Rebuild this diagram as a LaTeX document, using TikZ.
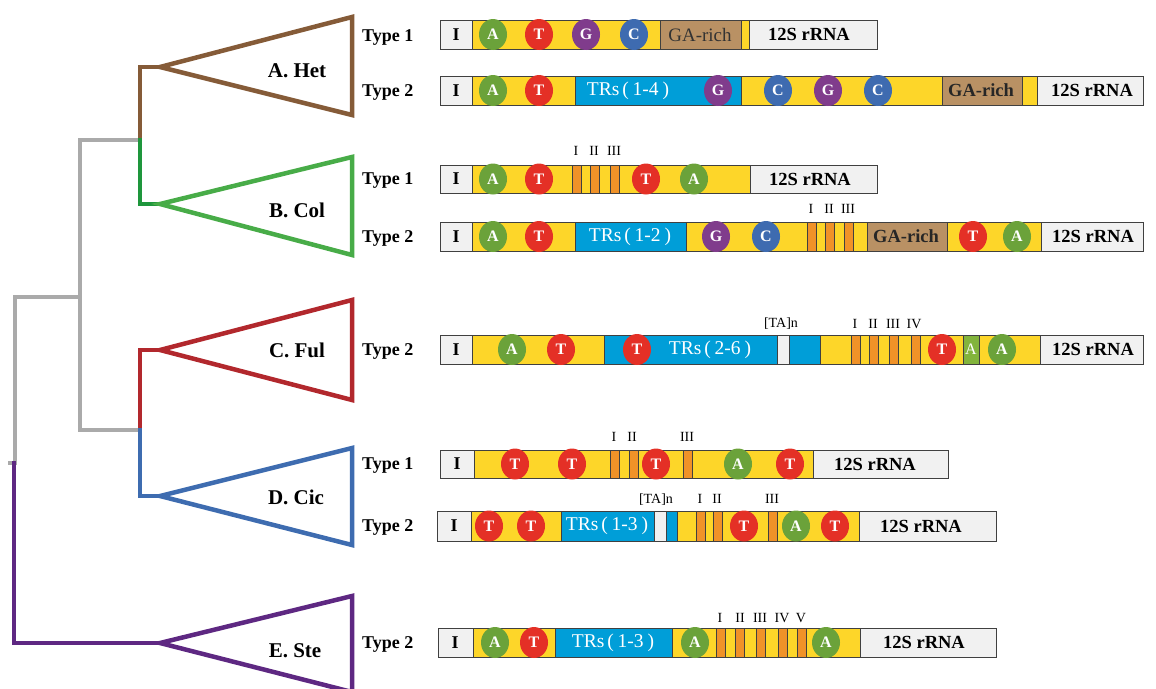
\documentclass[tikz,border=0pt]{standalone}
\usepackage{fontspec}
\setmainfont{Liberation Serif}
\usetikzlibrary{shapes.geometric}
\definecolor{cA}{RGB}{107,162,58}
\definecolor{cT}{RGB}{228,48,38}
\definecolor{cG}{RGB}{128,60,140}
\definecolor{cC}{RGB}{62,107,176}
\definecolor{bary}{RGB}{253,214,41}
\definecolor{trb}{RGB}{0,158,216}
\definecolor{orn}{RGB}{240,146,40}
\definecolor{gab}{RGB}{185,145,100}
\definecolor{boxg}{RGB}{241,241,241}
\definecolor{gbox}{RGB}{130,180,60}
\definecolor{tbrown}{RGB}{133,91,56}
\definecolor{tgreen}{RGB}{72,172,72}
\definecolor{tdgreen}{RGB}{30,150,60}
\definecolor{tred}{RGB}{178,40,45}
\definecolor{tblue}{RGB}{62,108,176}
\definecolor{tpurple}{RGB}{94,40,130}
\definecolor{tgray}{RGB}{170,170,170}
\tikzset{
  bar/.style={draw=black!75, line width=0.8pt},
  dot/.style={ellipse, minimum width=28pt, minimum height=31pt, inner sep=0pt, text=white, font=\fontsize{16}{16}\selectfont\bfseries},
  typelbl/.style={anchor=west, inner sep=0pt, text depth=0pt, font=\fontsize{18}{18}\selectfont\bfseries},
  clade/.style={inner sep=0pt, text depth=0pt, font=\fontsize{21}{21}\selectfont\bfseries},
  rn/.style={inner sep=0pt, text depth=0pt, font=\fontsize{14}{14}\selectfont},
  ilbl/.style={inner sep=0pt, text depth=0pt, font=\fontsize{18}{18}\selectfont\bfseries},
  rlbl/.style={inner sep=0pt, text depth=0pt, font=\fontsize{18.5}{18.5}\selectfont\bfseries},
  garich/.style={inner sep=0pt, text depth=0pt, text=black!80, font=\fontsize{19}{19}\selectfont},
  garichb/.style={inner sep=0pt, text depth=0pt, text=black!85, font=\fontsize{18.5}{18.5}\selectfont\bfseries},
  trlbl/.style={inner sep=0pt, text=white, font=\fontsize{19.5}{19.5}\selectfont},
  branch/.style={line width=4.5pt, line join=miter, line cap=rect},
}
\newcommand\rowset[2]{\def\yt{#1}\def\yb{#2}\pgfmathsetmacro\yc{(#1+#2)/2}}
\newcommand\seg[3]{\draw[bar,#3] (#1,\yt) rectangle (#2,\yb);}
\newcommand\cir[4]{\node[dot,fill=#3] (#4) at (#1,\yc) {#2};}
\newcommand\orb[1]{\draw[bar,fill=orn] (#1,\yt) rectangle ++(9,\yb-\yt);}
\newcommand\trs[1]{TRs\hspace{0.15em}(\hspace{0.2em}#1\hspace{0.2em})}
\begin{document}
\begin{tikzpicture}[x=1pt,y=-1pt]
\useasboundingbox (0,0) rectangle (1156,688);
% ---------- tree ----------
\coordinate (ra) at (160,67);
\coordinate (rb) at (160,204);
\coordinate (rc) at (160,350);
\coordinate (rd) at (160,496);
\coordinate (re) at (160,643);
\draw[branch,tgray] (80,140) -- (80,430);
\draw[branch,tgray] (80,140) -- (138,140);
\draw[branch,tgray] (80,430) -- (138,430);
\draw[branch,tgray] (15,297) -- (80,297);
\draw[branch,tgray] (15,297) -- (15,463) -- (10,463);
\draw[branch,tpurple] (14,463) -- (14,643) -- (re);
\draw[branch,tbrown] (140,140) -- (140,67) -- (ra);
\draw[branch,tdgreen] (140,140) -- (140,204) -- (rb);
\draw[branch,tred] (140,430) -- (140,350) -- (rc);
\draw[branch,tblue] (140,430) -- (140,496) -- (rd);
\draw[branch,tbrown] (ra) -- (352,17) -- (352,115) -- cycle;
\draw[branch,tgreen] (rb) -- (352,157) -- (352,255) -- cycle;
\draw[branch,tred] (rc) -- (352,300) -- (352,400) -- cycle;
\draw[branch,tblue] (rd) -- (352,448) -- (352,545) -- cycle;
\draw[branch,tpurple] (re) -- (352,596) -- (352,692) -- cycle;
\node[clade] (la) at (297,71) {A. Het};
\node[clade] (lb) at (297,210) {B. Col};
\node[clade] (lc) at (297,350) {C. Ful};
\node[clade] (ld) at (296,497) {D. Cic};
\node[clade] (le) at (295,651) {E. Ste};
% ---------- type labels ----------
\node[typelbl] (ta1) at (362,36) {Type 1};
\node[typelbl] (ta2) at (362,91) {Type 2};
\node[typelbl] (tb1) at (362,179) {Type 1};
\node[typelbl] (tb2) at (362,237) {Type 2};
\node[typelbl] (tc2) at (362,350) {Type 2};
\node[typelbl] (td1) at (362,464) {Type 1};
\node[typelbl] (td2) at (362,526) {Type 2};
\node[typelbl] (te2) at (362,643) {Type 2};
% ---------- A1 ----------
\rowset{20}{49}
\seg{440}{877}{fill=bary}
\seg{440}{472}{fill=boxg}\node[ilbl] (a1i) at (456,\yc) {I};
\seg{660}{741}{fill=gab}\node[garich] (a1g) at (700,\yc) {GA-rich};
\seg{749}{877}{fill=boxg}\node[rlbl] (a1r) at (809,\yc) {12S rRNA};
\cir{493}{A}{cA}{a1c1}\cir{539}{T}{cT}{a1c2}\cir{586}{G}{cG}{a1c3}\cir{634}{C}{cC}{a1c4}
% ---------- A2 ----------
\rowset{76}{105}
\seg{440}{1143}{fill=bary}
\seg{440}{472}{fill=boxg}\node[ilbl] (a2i) at (456,\yc) {I};
\seg{575}{741}{fill=trb}\node[trlbl] (a2tr) at (628,\yc) {\trs{1-4}};
\seg{942}{1022}{fill=gab}\node[garichb] (a2g) at (981,\yc) {GA-rich};
\seg{1037}{1143}{fill=boxg}\node[rlbl] (a2r) at (1092,\yc) {12S rRNA};
\cir{493}{A}{cA}{a2c1}\cir{539}{T}{cT}{a2c2}\cir{718}{G}{cG}{a2c3}\cir{778}{C}{cC}{a2c4}\cir{828}{G}{cG}{a2c5}\cir{878}{C}{cC}{a2c6}
% ---------- B1 ----------
\rowset{165}{193}
\seg{440}{877}{fill=bary}
\seg{440}{472}{fill=boxg}\node[ilbl] (b1i) at (456,\yc) {I};
\seg{750}{877}{fill=boxg}\node[rlbl] (b1r) at (810,\yc) {12S rRNA};
\orb{572}\orb{590}\orb{610}
\node[rn] (b1n1) at (576,151) {I};\node[rn] (b1n2) at (594,151) {II};\node[rn] (b1n3) at (614,151) {III};
\cir{493}{A}{cA}{b1c1}\cir{539}{T}{cT}{b1c2}\cir{646}{T}{cT}{b1c3}\cir{694}{A}{cA}{b1c4}
% ---------- B2 ----------
\rowset{222}{251}
\seg{440}{1143}{fill=bary}
\seg{440}{472}{fill=boxg}\node[ilbl] (b2i) at (456,\yc) {I};
\seg{575}{686}{fill=trb}\node[trlbl] (b2tr) at (630,\yc) {\trs{1-2}};
\orb{807}\orb{825}\orb{844}
\node[rn] (b2n1) at (811,209) {I};\node[rn] (b2n2) at (829,209) {II};\node[rn] (b2n3) at (848,209) {III};
\seg{867}{947}{fill=gab}\node[garichb] (b2g) at (906,\yc) {GA-rich};
\seg{1041}{1143}{fill=boxg}\node[rlbl] (b2r) at (1093,\yc) {12S rRNA};
\cir{493}{A}{cA}{b2c1}\cir{539}{T}{cT}{b2c2}\cir{716}{G}{cG}{b2c3}\cir{766}{C}{cC}{b2c4}\cir{973}{T}{cT}{b2c5}\cir{1017}{A}{cA}{b2c6}
% ---------- C2 ----------
\rowset{335}{364}
\seg{440}{1143}{fill=bary}
\seg{440}{472}{fill=boxg}\node[ilbl] (c2i) at (456,\yc) {I};
\seg{604}{820}{fill=trb}
\seg{777}{789}{fill=boxg}
\node[trlbl] (c2tr) at (710,\yc) {\trs{2-6}};
\node[rn] (c2ta) at (781,323) {[TA]n};
\orb{851}\orb{869}\orb{889}\orb{911}
\node[rn] (c2n1) at (855,324) {I};\node[rn] (c2n2) at (873,324) {II};\node[rn] (c2n3) at (893,324) {III};\node[rn] (c2n4) at (914,324) {IV};
\seg{963}{979}{fill=gbox}\node[rn,text=white,font=\fontsize{16}{16}\selectfont] (c2ga) at (971,\yc) {A};
\seg{1040}{1143}{fill=boxg}\node[rlbl] (c2r) at (1093,\yc) {12S rRNA};
\cir{512}{A}{cA}{c2c1}\cir{561}{T}{cT}{c2c2}\cir{637}{T}{cT}{c2c3}\cir{942}{T}{cT}{c2c4}\cir{1002}{A}{cA}{c2c5}
% ---------- D1 ----------
\rowset{450}{478}
\seg{440}{948}{fill=bary}
\seg{440}{474}{fill=boxg}\node[ilbl] (d1i) at (457,\yc) {I};
\seg{813}{948}{fill=boxg}\node[rlbl] (d1r) at (875,\yc) {12S rRNA};
\orb{610}\orb{629}\orb{683}
\node[rn] (d1n1) at (614,437) {I};\node[rn] (d1n2) at (632,437) {II};\node[rn] (d1n3) at (687,437) {III};
\cir{515}{T}{cT}{d1c1}\cir{572}{T}{cT}{d1c2}\cir{656}{T}{cT}{d1c3}\cir{738}{A}{cA}{d1c4}\cir{790}{T}{cT}{d1c5}
% ---------- D2 ----------
\rowset{511}{541}
\seg{437}{996}{fill=bary}
\seg{437}{471}{fill=boxg}\node[ilbl] (d2i) at (454,\yc) {I};
\seg{561}{677}{fill=trb}
\seg{654}{666}{fill=boxg}
\node[trlbl] (d2tr) at (607,\yc) {\trs{1-3}};
\node[rn] (d2ta) at (656,499) {[TA]n};
\orb{696}\orb{713}\orb{768}
\node[rn] (d2n1) at (700,499) {I};\node[rn] (d2n2) at (717,499) {II};\node[rn] (d2n3) at (772,499) {III};
\seg{859}{996}{fill=boxg}\node[rlbl] (d2r) at (921,\yc) {12S rRNA};
\cir{489}{T}{cT}{d2c1}\cir{531}{T}{cT}{d2c2}\cir{744}{T}{cT}{d2c3}\cir{796}{A}{cA}{d2c4}\cir{835}{T}{cT}{d2c5}
% ---------- E2 ----------
\rowset{628}{657}
\seg{438}{996}{fill=bary}
\seg{438}{473}{fill=boxg}\node[ilbl] (e2i) at (455,\yc) {I};
\seg{555}{672}{fill=trb}\node[trlbl] (e2tr) at (613,\yc) {\trs{1-3}};
\orb{716}\orb{735}\orb{756}\orb{778}\orb{797}
\node[rn] (e2n1) at (720,618) {I};\node[rn] (e2n2) at (740,618) {II};\node[rn] (e2n3) at (760,618) {III};\node[rn] (e2n4) at (782,618) {IV};\node[rn] (e2n5) at (801,618) {V};
\seg{860}{996}{fill=boxg}\node[rlbl] (e2r) at (924,\yc) {12S rRNA};
\cir{495}{A}{cA}{e2c1}\cir{534}{T}{cT}{e2c2}\cir{695}{A}{cA}{e2c3}\cir{826}{A}{cA}{e2c4}
\end{tikzpicture}
\end{document}
